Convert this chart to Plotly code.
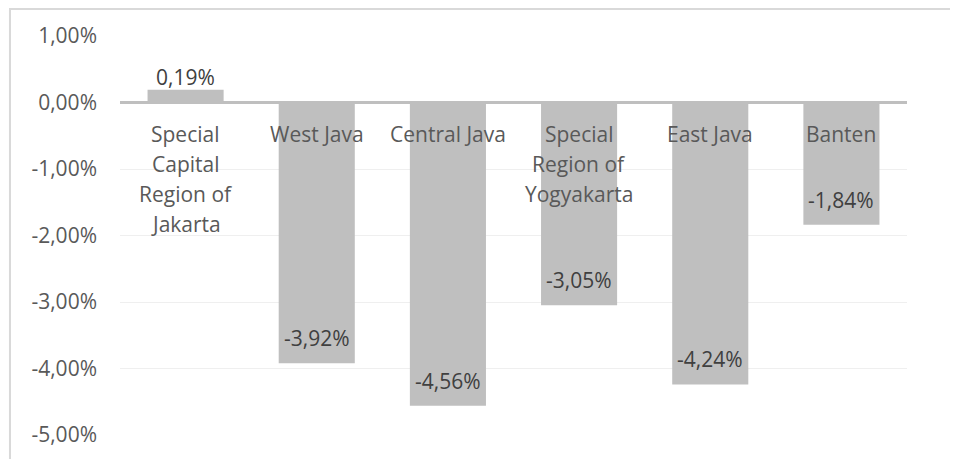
import plotly.graph_objects as go

category_lines = [["Special", "Capital", "Region of", "Jakarta"], ["West Java"], ["Central Java"],
                  ["Special", "Region of", "Yogyakarta"], ["East Java"], ["Banten"]]
values = [0.19, -3.92, -4.56, -3.05, -4.24, -1.84]
labels = ["0,19%", "-3,92%", "-4,56%", "-3,05%", "-4,24%", "-1,84%"]
tick_vals = [1, 0, -1, -2, -3, -4, -5]
tick_text = ["1,00%", "0,00%", "-1,00%", "-2,00%", "-3,00%", "-4,00%", "-5,00%"]

FONT = "Open Sans"
xs = list(range(len(values)))

fig = go.Figure()
fig.add_trace(go.Bar(
    x=xs, y=values,
    marker=dict(color="#bfbfbf", line=dict(width=0)),
    width=0.58,
    hoverinfo="skip",
))

# category labels just under the zero line
for i, lines in enumerate(category_lines):
    for k, line in enumerate(lines):
        fig.add_annotation(x=i, y=0, xref="x", yref="y", text=line, showarrow=False,
                           yanchor="middle", yshift=-(31 + 30 * k),
                           font=dict(family=FONT, size=21, color="#595959"))

# data labels at the bar ends
for i, (v, t) in enumerate(zip(values, labels)):
    fig.add_annotation(x=i, y=v, xref="x", yref="y", text=t, showarrow=False,
                       yanchor="middle", yshift=(13 if v > 0 else 25),
                       font=dict(family=FONT, size=21, color="#404040"))

fig.add_shape(type="rect", xref="paper", yref="paper",
              x0=-0.1398, x1=1.2, y0=-0.2, y1=1.0677,
              line=dict(color="#d9d9d9", width=2), fillcolor="rgba(0,0,0,0)", layer="below")

fig.update_layout(
    width=958, height=459,
    margin=dict(l=112, r=59, t=28, b=32),
    paper_bgcolor="white", plot_bgcolor="white",
    showlegend=False,
    xaxis=dict(range=[-0.5, 5.5], showticklabels=False, showgrid=False, zeroline=False,
               showline=False, fixedrange=True),
    yaxis=dict(range=[-5, 1], tickvals=tick_vals, ticktext=tick_text,
               showgrid=True, gridcolor="#efefef", gridwidth=1,
               zeroline=True, zerolinecolor="#bfbfbf", zerolinewidth=3,
               showline=False, ticks="", ticklabelstandoff=22,
               tickfont=dict(family=FONT, size=21, color="#595959")),
)

fig.write_html("out.html")
